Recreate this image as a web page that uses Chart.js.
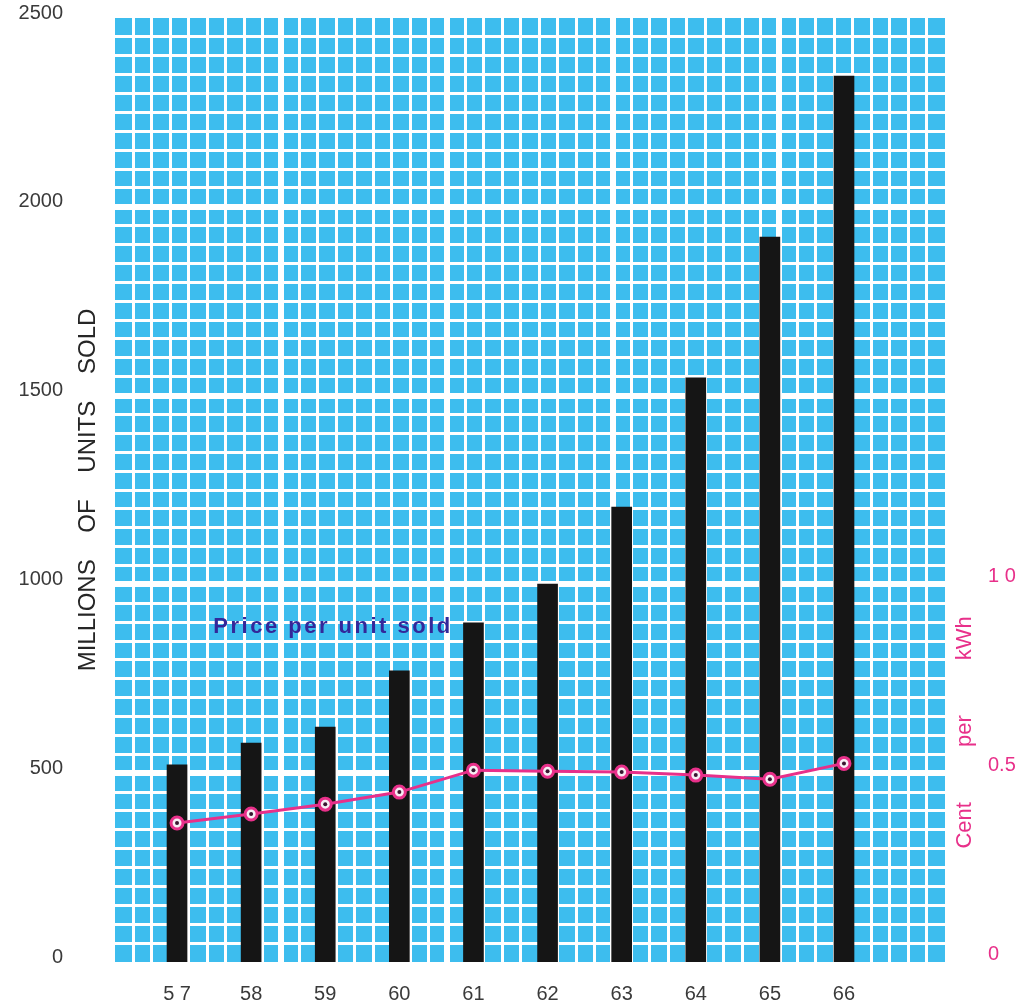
<!DOCTYPE html>
<html>
<head>
<meta charset="utf-8">
<script src="https://cdn.jsdelivr.net/npm/chart.js@4.4.0/dist/chart.umd.min.js"></script>
<style>
  html, body { margin: 0; padding: 0; background: #fff; }
  #wrap { width: 1016px; height: 1003px; position: relative; }
</style>
</head>
<body>
<div id="wrap"><canvas id="sales-chart"></canvas></div>
<script>
// years (19xx) and how they are printed under the bars
const years = [57, 58, 59, 60, 61, 62, 63, 64, 65, 66];
const yearLabels = ['5 7', '58', '59', '60', '61', '62', '63', '64', '65', '66'];
// millions of units sold
const unitsSold = [522, 580, 622, 771, 898, 1001, 1205, 1547, 1920, 2346];
// price, cent per kWh
const pricePerUnit = [0.368, 0.392, 0.418, 0.45, 0.508, 0.505, 0.503, 0.495, 0.484, 0.526];
// tick labels
const unitTicks = [0, 500, 1000, 1500, 2000, 2500];
const priceTicks = [0, 0.5, 1.0];
const priceTickLabels = ['0', '0.5', '1 0'];

const X_MIN = 56.163, X_MAX = 67.363;
const BLUE = '#3dbdee';
const PINK = '#e8308a';

Chart.defaults.font.family = '"Liberation Sans", Arial, sans-serif';

// blue paper behind the white grid
const gridBackground = {
  id: 'gridBackground',
  beforeDraw(chart) {
    const { ctx, chartArea: a } = chart;
    ctx.save();
    ctx.fillStyle = BLUE;
    ctx.fillRect(a.left, a.top, a.right - a.left, a.bottom - a.top);
    ctx.restore();
  }
};

// note inside the grid + right axis title (reads bottom to top)
const textLabels = {
  id: 'textLabels',
  afterDraw(chart) {
    const { ctx } = chart;
    const x = chart.scales.x, y = chart.scales.y, y1 = chart.scales.y1;
    ctx.save();
    ctx.font = 'bold 22px "Liberation Sans", sans-serif';
    ctx.letterSpacing = '2.5px';
    ctx.fillStyle = '#33289a';
    ctx.textBaseline = 'middle';
    ctx.textAlign = 'left';
    ctx.fillText('Price per unit sold', x.getPixelForValue(57.49), y.getPixelForValue(887));

    ctx.letterSpacing = '0px';
    ctx.translate(y1.left + 20, y1.getPixelForValue(0.608));
    ctx.rotate(-Math.PI / 2);
    ctx.textAlign = 'center';
    ctx.font = '22px "Liberation Sans", sans-serif';
    ctx.fillStyle = PINK;
    ctx.fillText('Cent         per         kWh', 0, 0);
    ctx.restore();
  }
};

const cellLine = (isEdge, isMajor) => isEdge ? 0 : (isMajor ? 6 : 3);
const noPad = s => { s.paddingTop = 0; s.paddingBottom = 0; s.paddingLeft = 0; s.paddingRight = 0; };

new Chart(document.getElementById('sales-chart'), {
  type: 'bar',
  data: {
    datasets: [
      {
        type: 'line',
        data: years.map((yr, i) => ({ x: yr, y: pricePerUnit[i] })),
        yAxisID: 'y1',
        xAxisID: 'x',
        pointRadius: 2,
        pointBorderWidth: 0,
        pointBackgroundColor: '#3a1530',
        showLine: false,
        order: 0
      },
      {
        type: 'line',
        data: years.map((yr, i) => ({ x: yr, y: pricePerUnit[i] })),
        yAxisID: 'y1',
        xAxisID: 'x',
        borderColor: PINK,
        borderWidth: 3,
        pointRadius: 6,
        pointBorderWidth: 3,
        pointBorderColor: PINK,
        pointBackgroundColor: '#f6eef4',
        order: 1
      },
      {
        type: 'bar',
        data: years.map((yr, i) => ({ x: yr, y: unitsSold[i] })),
        yAxisID: 'y',
        xAxisID: 'x',
        backgroundColor: '#151515',
        barThickness: 20,
        order: 2
      }
    ]
  },
  options: {
    responsive: true,
    maintainAspectRatio: false,
    animation: false,
    layout: { padding: { top: 18, left: 0, right: 0, bottom: 0 } },
    plugins: { legend: { display: false }, tooltip: { enabled: false } },
    scales: {
      x: {
        type: 'linear',
        offset: false,
        min: X_MIN,
        max: X_MAX,
        afterBuildTicks: s => { s.ticks = years.map(v => ({ value: v })); },
        afterFit: s => { s.height = 41; noPad(s); },
        ticks: {
          callback: v => yearLabels[years.indexOf(v)],
          color: '#3a3a3a',
          font: { size: 20 },
          padding: 12,
          autoSkip: false,
          maxRotation: 0
        },
        grid: { display: false },
        border: { display: false }
      },
      xGrid: {
        type: 'linear',
        position: 'bottom',
        offset: false,
        min: X_MIN,
        max: X_MAX,
        afterBuildTicks: s => {
          s.ticks = Array.from({ length: 46 }, (_, i) => ({ value: X_MIN + i * (X_MAX - X_MIN) / 45 }));
        },
        afterFit: s => { s.height = 0; noPad(s); },
        ticks: { display: false },
        grid: {
          color: '#ffffff',
          drawTicks: false,
          offset: false,
          lineWidth: c => cellLine(c.index === 0 || c.index === 45, c.index % 9 === 0)
        },
        border: { display: false }
      },
      y: {
        position: 'left',
        weight: 1,
        min: 0,
        max: 2500,
        afterBuildTicks: s => { s.ticks = Array.from({ length: 51 }, (_, i) => ({ value: i * 50 })); },
        afterFit: s => { s.width = 70; noPad(s); },
        ticks: {
          autoSkip: false,
          callback: v => unitTicks.includes(v) ? String(v) : '',
          padding: 7,
          labelOffset: -5,
          color: '#3a3a3a',
          font: { size: 20 }
        },
        grid: {
          color: '#ffffff',
          drawTicks: false,
          lineWidth: c => cellLine(c.tick.value === 0 || c.tick.value === 2500, c.tick.value % 500 === 0)
        },
        border: { display: false }
      },
      yTitle: {
        position: 'left',
        weight: 0,
        min: 0,
        max: 2500,
        afterFit: s => { s.width = 45; noPad(s); },
        ticks: { display: false },
        grid: { display: false },
        border: { display: false },
        title: {
          display: true,
          text: 'MILLIONS    OF    UNITS    SOLD',
          color: '#262626',
          font: { size: 24 },
          padding: { top: 4, bottom: 0 }
        }
      },
      y1: {
        position: 'right',
        min: 0,
        max: 2.5,
        afterBuildTicks: s => { s.ticks = priceTicks.map(v => ({ value: v })); },
        afterFit: s => { s.width = 71; noPad(s); },
        ticks: {
          callback: (v, i) => priceTickLabels[i],
          padding: 35,
          labelOffset: -8,
          color: PINK,
          font: { size: 20 }
        },
        grid: { display: false },
        border: { display: false }
      }
    }
  },
  plugins: [gridBackground, textLabels]
});
</script>
</body>
</html>
